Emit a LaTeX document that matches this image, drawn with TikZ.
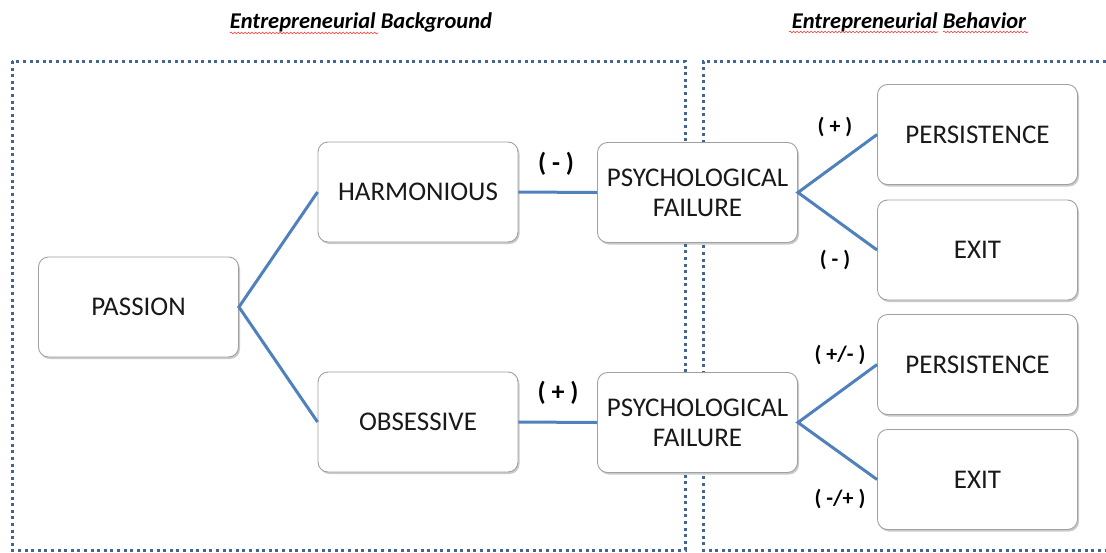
\documentclass[tikz,border=0pt]{standalone}
\usepackage{fontspec}
\setmainfont{Carlito}
\usetikzlibrary{shadows,decorations.pathmorphing}
\definecolor{linkblue}{RGB}{79,129,189}
\definecolor{framedot}{RGB}{68,100,145}
\definecolor{boxedge}{RGB}{160,160,160}
\tikzset{
  box/.style={draw=boxedge, line width=0.9pt, rounded corners=10pt, fill=white,
    minimum width=200pt, minimum height=100pt, align=center,
    font=\fontsize{27}{30}\selectfont, text=black!90,
    drop shadow={shadow xshift=1.5pt, shadow yshift=-2pt, opacity=0.35, fill=black!60}},
  link/.style={draw=linkblue, line width=3pt},
  frame/.style={draw=framedot, line width=3pt, dash pattern=on 3pt off 3.6pt},
  biglabel/.style={font=\bfseries\fontsize{26}{30}\selectfont},
  smalllabel/.style={font=\bfseries\fontsize{22}{26}\selectfont},
  title/.style={font=\bfseries\itshape\fontsize{22.5}{26}\selectfont},
  squiggle/.style={draw=red!80, line width=0.6pt, decorate,
    decoration={snake, amplitude=0.9pt, segment length=3.5pt}}
}
\begin{document}
\begin{tikzpicture}[x=1pt, y=-1pt]
\useasboundingbox (0,0) rectangle (1106,552);
% frames
\draw[frame] (12,61) rectangle (685,550);
\draw[frame] (1106,61) -- (703,61) -- (703,550) -- (1106,550);
% titles
\node[title] (t1) at (361,22) {Entrepreneurial Background};
\node[title] (t2) at (909,22) {Entrepreneurial Behavior};
\draw[squiggle] (230,33) -- (378,33);
\draw[squiggle] (789,32) -- (938,32);
\draw[squiggle] (943,32) -- (1028,32);
% boxes
\node[box] (passion) at (138.5,307) {PASSION};
\node[box] (harm) at (418,192) {HARMONIOUS};
\node[box] (obs) at (418,422) {OBSESSIVE};
\node[box] (pf1) at (697.5,192.5) {PSYCHOLOGICAL\\FAILURE};
\node[box] (pf2) at (697.5,422.5) {PSYCHOLOGICAL\\FAILURE};
\node[box] (pers1) at (977.5,134.5) {PERSISTENCE};
\node[box] (exit1) at (977.5,250) {EXIT};
\node[box] (pers2) at (977.5,364.5) {PERSISTENCE};
\node[box] (exit2) at (977.5,479.5) {EXIT};
% connectors
\draw[link] (harm.west) -- (passion.east) -- (obs.west);
\draw[link] (harm.east) -- (pf1.west);
\draw[link] (obs.east) -- (pf2.west);
\draw[link] (pers1.west) -- (pf1.east) -- (exit1.west);
\draw[link] (pers2.west) -- (pf2.east) -- (exit2.west);
% labels
\node[biglabel] (l1) at (556,164) {( - )};
\node[biglabel] (l2) at (558,393) {( + )};
\node[smalllabel] (l3) at (835,127) {( + )};
\node[smalllabel] (l4) at (835,260) {( - )};
\node[smalllabel] (l5) at (840,355) {( +/- )};
\node[smalllabel] (l6) at (840,499) {( -/+ )};
\end{tikzpicture}
\end{document}
